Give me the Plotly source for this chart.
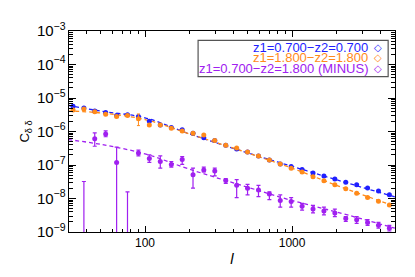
import plotly.graph_objects as go

# multipole bins
ell = [32.4, 38.4, 45.5, 54.0, 64.1, 76.0, 90.2, 107, 127, 151, 179, 212, 251, 298, 354,
       420, 498, 591, 701, 831, 986, 1170, 1388, 1647, 1954, 2318, 2750, 3262, 3870, 4590]

c_blue = [5.68e-6, 5.07e-6, 4.09e-6, 3.66e-6, 3.01e-6, 3.15e-6, 2.82e-6, 2.03e-6, 1.56e-6, 1.32e-6,
          1.12e-6, 8.89e-7, 6.53e-7, 5.37e-7, 3.87e-7, 2.98e-7, 2.45e-7, 1.85e-7, 1.42e-7, 1.07e-7,
          8.99e-8, 7.40e-8, 5.79e-8, 4.68e-8, 3.84e-8, 3.08e-8, 2.59e-8, 2.07e-8, 1.67e-8, 1.29e-8]
c_orange = [4.37e-6, 4.66e-6, 3.91e-6, 3.30e-6, 2.82e-6, 3.01e-6, 2.42e-6, 1.56e-6, 1.56e-6, 1.26e-6,
            1.04e-6, 8.89e-7, 7.80e-7, 5.37e-7, 3.87e-7, 3.24e-7, 2.45e-7, 1.85e-7, 1.42e-7, 1.07e-7,
            8.05e-8, 6.19e-8, 4.47e-8, 3.37e-8, 2.59e-8, 1.95e-8, 1.44e-8, 1.08e-8, 8.30e-9, 6.38e-9]
blue_relerr = [0.05] * 30
orange_relerr = [0.05, 0.05, 0.05, 0.05, 0.05, 0.05, 0.38, 0.1, 0.05, 0.05,
                 0.05, 0.05, 0.05, 0.05, 0.05, 0.05, 0.05, 0.05, 0.05, 0.05,
                 0.05, 0.05, 0.05, 0.05, 0.05, 0.05, 0.05, 0.05, 0.05, 0.05]

# cross spectrum (minus); 1e-10 marks points that fall below the axis
c_purple = [None, 1e-10, 6.12e-7, 8.49e-7, 1.19e-7, 1e-10, 2.29e-7, 1.55e-7, 1.27e-7, 1.04e-7,
            1.45e-7, 5.09e-8, 7.06e-8, 6.61e-8, 3.44e-8, 2.48e-8, 2.03e-8, 1.79e-8, 1.37e-8, 8.69e-9,
            8.13e-9, 5.86e-9, 4.82e-9, 4.23e-9, 3.71e-9, 2.51e-9, 2.34e-9, 1.93e-9, 1.58e-9, 1.30e-9]
purple_hi = [None, 3.22e-8, 9.08e-7, 1.04e-6, 3.40e-7, 1.57e-8, 2.79e-7, 2.01e-7, 1.88e-7, 1.27e-7,
             1.77e-7, 8.05e-8, 8.59e-8, 8.05e-8, 3.92e-8, 3.66e-8, 2.64e-8, 2.48e-8, 1.57e-8, 1.29e-8,
             1.06e-8, 7.14e-9, 6.27e-9, 5.50e-9, 4.82e-9, 2.86e-9, 2.86e-9, 2.34e-9, 1.93e-9, 1.58e-9]
purple_lo = [None, 1e-11, 3.63e-7, 6.98e-7, 1e-11, 1e-11, 1.88e-7, 1.19e-7, 8.05e-8, 8.59e-8,
             1.04e-7, 2.03e-8, 6.19e-8, 4.76e-8, 2.82e-8, 1.06e-8, 1.29e-8, 1.13e-8, 9.27e-9, 5.50e-9,
             5.50e-9, 4.52e-9, 3.71e-9, 3.25e-9, 2.86e-9, 2.06e-9, 1.81e-9, 1.58e-9, 1.30e-9, 1.07e-9]

# theory curves
ell_th = [30, 50, 100, 200, 500, 1000, 2000, 5000]
th_blue = [6.05e-6, 4.07e-6, 2.57e-6, 8.51e-7, 2.29e-7, 9.12e-8, 3.63e-8, 1.12e-8]
th_orange = [4.09e-6, 3.59e-6, 2.27e-6, 8.51e-7, 2.29e-7, 8.05e-8, 2.48e-8, 5.89e-9]
th_purple = [5.74e-7, 4.13e-7, 2.15e-7, 7.53e-8, 2.17e-8, 8.71e-9, 3.98e-9, 1.30e-9]

labels = ["z1=0.700\u2212z2=0.700", "z1=1.800\u2212z2=1.800", "z1=0.700\u2212z2=1.800 (MINUS)"]

BLUE = "#1f1fff"
ORANGE = "#ff8a1a"
PURPLE = "#a020f0"

fig = go.Figure()

for th, col in [(th_blue, BLUE), (th_orange, ORANGE), (th_purple, PURPLE)]:
    fig.add_trace(go.Scatter(x=ell_th, y=th, mode="lines", line=dict(color=col, width=1.3, dash="4px,3px", shape="spline"),
                             showlegend=False, hoverinfo="skip"))

fig.add_trace(go.Scatter(
    x=ell, y=c_purple, mode="markers", marker=dict(color=PURPLE, size=5),
    error_y=dict(type="data", symmetric=False,
                 array=[None if v is None else h - v for v, h in zip(c_purple, purple_hi)],
                 arrayminus=[None if v is None else v - l for v, l in zip(c_purple, purple_lo)],
                 color=PURPLE, thickness=1.2, width=2),
    showlegend=False))
fig.add_trace(go.Scatter(
    x=ell, y=c_blue, mode="markers", marker=dict(color=BLUE, size=5),
    error_y=dict(type="data", array=[v * r for v, r in zip(c_blue, blue_relerr)], color=BLUE, thickness=1, width=1.5),
    showlegend=False))
fig.add_trace(go.Scatter(
    x=ell, y=c_orange, mode="markers", marker=dict(color=ORANGE, size=5),
    error_y=dict(type="data", array=[v * r for v, r in zip(c_orange, orange_relerr)], color=ORANGE, thickness=1, width=1.5),
    showlegend=False))

# legend drawn as text
ys = [0.919, 0.867, 0.815]
for lab, col, yy in zip(labels, [BLUE, ORANGE, PURPLE], ys):
    fig.add_annotation(x=0.923, y=yy, xref="paper", yref="paper", text=lab, showarrow=False,
                       xanchor="right", yanchor="middle", font=dict(color=col, size=13))
    fig.add_annotation(x=0.947, y=yy, xref="paper", yref="paper", text="\u25c7", showarrow=False,
                       xanchor="center", yanchor="middle", font=dict(color=col, size=10, family="DejaVu Sans"))
fig.add_shape(type="rect", xref="paper", yref="paper", x0=0.396, x1=0.979, y0=0.773, y1=0.953,
              line=dict(color="#555555", width=1.2), fillcolor="rgba(0,0,0,0)")

minor_x = [40, 50, 60, 70, 80, 90, 200, 300, 400, 500, 600, 700, 800, 900, 2000, 3000, 4000, 5000]
fig.update_xaxes(type="log", range=[1.483, 3.70], showgrid=False, zeroline=False,
                 showline=True, linecolor="black", linewidth=1, mirror="ticks",
                 ticks="inside", ticklen=6, tickcolor="black",
                 tickvals=[100, 1000], ticktext=["100", "1000"],
                 minor=dict(ticks="inside", ticklen=3, tickcolor="black", tickvals=minor_x, showgrid=False),
                 title=dict(text="<i>l</i>", font=dict(size=15, color="black"), standoff=4),
                 tickfont=dict(size=12, color="black"))
fig.update_yaxes(type="log", range=[-9, -3], showgrid=False, zeroline=False,
                 showline=True, linecolor="black", linewidth=1, mirror="ticks",
                 ticks="inside", ticklen=7, tickcolor="black", dtick=1,
                 exponentformat="power", showexponent="all",
                 minor=dict(ticks="inside", ticklen=4, tickcolor="black", dtick="D1", showgrid=False),
                 title=dict(text="C<sub>\u03b4 \u03b4</sub>", font=dict(size=13, color="black"), standoff=4),
                 tickfont=dict(size=12, color="black"))

# page body has an 8px default margin; size the figure so the plot area lands where the reference has it
fig.update_layout(width=407, height=269, margin=dict(l=61, r=20, t=14, b=44),
                  plot_bgcolor="white", paper_bgcolor="white",
                  font=dict(family="Liberation Sans, Arial, sans-serif", color="black"))

fig.write_html("out.html")
